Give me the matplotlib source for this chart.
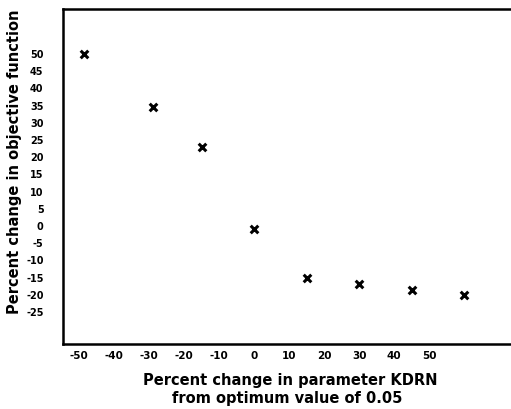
import matplotlib
matplotlib.use("Agg")
import matplotlib.pyplot as plt

# Sensitivity of the objective function to parameter KDRN
param_change = [-48.5, -29, -15, 0, 15, 30, 45, 60]
objective_change = [50, 34.5, 23, -1, -15, -17, -18.7, -20]

x_ticks = [-50, -40, -30, -20, -10, 0, 10, 20, 30, 40, 50]
y_ticks = [50, 45, 40, 35, 30, 25, 20, 15, 10, 5, 0, -5, -10, -15, -20, -25]

fig = plt.figure(figsize=(5.11, 4.09), dpi=100)
ax = fig.add_axes([63 / 511, 65 / 409, 1 - 63 / 511, 335 / 409])

ax.scatter(param_change, objective_change, marker="x", s=30,
           linewidths=2.2, color="black", zorder=3)

ax.set_xlim(-54.6, 73.4)
ax.set_ylim(-34.3, 63.1)

ax.set_xticks(x_ticks)
ax.set_xticklabels([str(v) for v in x_ticks], fontsize=7.5, fontweight="bold")
ax.set_yticks(y_ticks)
ax.set_yticklabels([str(v) for v in y_ticks], fontsize=7, fontweight="bold")
ax.tick_params(axis="x", length=0, pad=5)
ax.tick_params(axis="y", length=0, pad=14)

for side in ("left", "top", "bottom"):
    ax.spines[side].set_linewidth(1.8)
    ax.spines[side].set_color("black")
ax.spines["right"].set_visible(False)

fig.text(15 / 511, 1 - 162 / 409, "Percent change in objective function",
         rotation=90, ha="center", va="center", fontsize=10.5, fontweight="bold")
fig.text(290 / 511, 1 - 381 / 409, "Percent change in parameter KDRN",
         ha="center", va="center", fontsize=10.5, fontweight="bold")
fig.text(287 / 511, 1 - 399 / 409, "from optimum value of 0.05",
         ha="center", va="center", fontsize=10.5, fontweight="bold")

fig.savefig("out.png", dpi=100)
